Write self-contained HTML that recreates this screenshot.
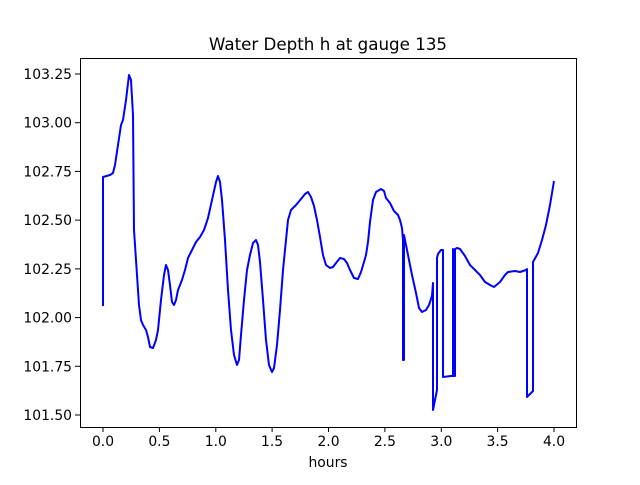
<!DOCTYPE html>
<html><head><style>
body{margin:0;background:#fff;}
svg text{font-family:"DejaVu Sans","Liberation Sans",sans-serif;font-size:13.9px;fill:#000;}
</style></head><body>
<svg width="640" height="480" viewBox="0 0 640 480" xmlns="http://www.w3.org/2000/svg">
<rect width="640" height="480" fill="#fff"/>
<text x="328" y="50" text-anchor="middle" style="font-size:16.7px">Water Depth h at gauge 135</text>
<polyline fill="none" stroke="#0000ff" stroke-width="2" stroke-linejoin="round" points="103,306 103,177 110,175 113,173 115,165 118,145 121,125 123,120 126,100 129,75 131,80 133,115 134,230 137,275 139,305 141,320 143,325 146,330 148,337 150,347 153,348 156,340 158,330 161,300 164,275 166,265 168,270 170,285 172,302 174,305 176,300 178,290 182,280 185,270 188,258 192,250 196,242 200,237 204,230 208,218 212,200 216,182 218,176 220,182 222,200 225,240 228,290 231,330 234,355 237,365 239,360 241,335 244,300 247,270 250,255 253,243 256,240 258,245 260,262 263,300 266,340 269,365 272,372 274,368 277,345 280,310 283,270 286,240 288,220 291,210 296,205 301,199 305,194 308,192 311,197 314,206 317,220 320,237 323,255 326,265 330,268 333,267 336,263 340,258 344,259 347,263 350,270 354,278 358,279 361,272 364,262 366,255 368,242 370,222 373,200 376,192 381,189 384,191 386,198 390,203 394,211 398,215 400,220 402,228 403,240 403,360 404,360 404,235 408,255 412,275 416,293 419,308 422,312 426,310 429,305 432,296 433,283 433,410 437,390 437,258 438,254 441,250 443,250 443,377 451,376 453,376 453,249 454,376 455,376 455,249 457,248 460,249 465,256 470,265 475,270 480,275 485,282 490,285 494,287 500,282 505,275 508,272 515,271 520,272 526,270 527,269 527,397 533,391 533,262 538,253 542,240 546,225 550,205 554,181"/>
<rect x="80.5" y="58.5" width="496" height="369" fill="none" stroke="#000" stroke-width="1"/>
<g stroke="#000" stroke-width="1">
<line x1="103" y1="427" x2="103" y2="432"/><line x1="159.4" y1="427" x2="159.4" y2="432"/><line x1="215.8" y1="427" x2="215.8" y2="432"/><line x1="272.1" y1="427" x2="272.1" y2="432"/><line x1="328.5" y1="427" x2="328.5" y2="432"/><line x1="384.9" y1="427" x2="384.9" y2="432"/><line x1="441.3" y1="427" x2="441.3" y2="432"/><line x1="497.6" y1="427" x2="497.6" y2="432"/><line x1="554" y1="427" x2="554" y2="432"/>
<line x1="75" y1="415" x2="80" y2="415"/><line x1="75" y1="366.3" x2="80" y2="366.3"/><line x1="75" y1="317.6" x2="80" y2="317.6"/><line x1="75" y1="268.9" x2="80" y2="268.9"/><line x1="75" y1="220.1" x2="80" y2="220.1"/><line x1="75" y1="171.4" x2="80" y2="171.4"/><line x1="75" y1="122.7" x2="80" y2="122.7"/><line x1="75" y1="74" x2="80" y2="74"/>
</g>
<g text-anchor="middle">
<text x="103" y="446">0.0</text><text x="159.4" y="446">0.5</text><text x="215.8" y="446">1.0</text><text x="272.1" y="446">1.5</text><text x="328.5" y="446">2.0</text><text x="384.9" y="446">2.5</text><text x="441.3" y="446">3.0</text><text x="497.6" y="446">3.5</text><text x="554" y="446">4.0</text>
<text x="328" y="467">hours</text>
</g>
<g text-anchor="end">
<text x="72" y="420">101.50</text><text x="72" y="371.3">101.75</text><text x="72" y="322.6">102.00</text><text x="72" y="273.9">102.25</text><text x="72" y="225.1">102.50</text><text x="72" y="176.4">102.75</text><text x="72" y="127.7">103.00</text><text x="72" y="79">103.25</text>
</g>
</svg>
</body></html>
